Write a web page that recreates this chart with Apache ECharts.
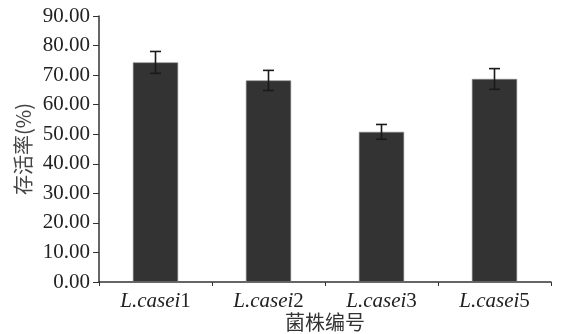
<!DOCTYPE html>
<html><head><meta charset="utf-8">
<script src="https://cdn.jsdelivr.net/npm/echarts@6/dist/echarts.min.js"></script>
<style>html,body{margin:0;padding:0;background:#fff}#c{width:561px;height:334px}</style>
</head><body><div id="c"></div>
<script>
const categories = ['L.casei1', 'L.casei2', 'L.casei3', 'L.casei5'];
const means = [74.3, 68.2, 50.8, 68.7];
const errors = [3.7, 3.4, 2.5, 3.5];
const yTicks = { min: 0, max: 90, interval: 10 };

const chart = echarts.init(document.getElementById('c'));
const serif = '"Liberation Serif","Times New Roman",serif';
chart.setOption({
  animation: false,
  backgroundColor: '#fff',
  grid: { left: 99, right: 10, top: 16, bottom: 52, containLabel: false, outerBoundsMode: 'none' },
  xAxis: {
    type: 'category',
    data: categories,
    name: '菌株编号',
    nameLocation: 'middle',
    nameGap: 30,
    nameMoveOverlap: false,
    nameTextStyle: { fontFamily: '"Noto Sans CJK SC"', fontSize: 20, color: '#333' },
    axisLine: { lineStyle: { color: '#333', width: 1.5 } },
    axisTick: { show: true, length: 4, inside: false, lineStyle: { color: '#333' } },
    axisLabel: {
      margin: 9,
      formatter: v => {
        const m = v.match(/^(.*?)(\d+)$/);
        return '{i|' + m[1] + '}{n|' + m[2] + '}';
      },
      rich: {
        i: { fontFamily: serif, fontStyle: 'italic', fontSize: 21, color: '#222' },
        n: { fontFamily: serif, fontSize: 21, color: '#222' }
      }
    }
  },
  yAxis: {
    type: 'value',
    min: yTicks.min, max: yTicks.max, interval: yTicks.interval,
    name: '存活率(%)',
    nameLocation: 'middle',
    nameGap: 66,
    nameMoveOverlap: false,
    nameTextStyle: { fontFamily: '"Noto Sans CJK SC"', fontSize: 20, color: '#444' },
    axisLine: { show: true, lineStyle: { color: '#333', width: 1.5 } },
    axisTick: { show: true, length: 6, lineStyle: { color: '#333' } },
    splitLine: { show: false },
    axisLabel: {
      margin: 9,
      fontFamily: serif, fontSize: 21, color: '#222',
      formatter: v => v.toFixed(2)
    }
  },
  series: [
    {
      type: 'bar',
      data: means,
      barWidth: '40%',
      itemStyle: { color: '#333333', borderColor: '#888', borderWidth: 0.6 }
    },
    {
      type: 'custom',
      data: means.map((m, i) => [i, m, errors[i]]),
      z: 10,
      renderItem: (params, api) => {
        const i = api.value(0), m = api.value(1), e = api.value(2);
        const hi = api.coord([i, m + e]);
        const lo = api.coord([i, m - e]);
        const hw = 5.5;
        const st = { stroke: '#1a1a1a', lineWidth: 1.6 };
        return {
          type: 'group',
          children: [
            { type: 'line', shape: { x1: hi[0], y1: hi[1], x2: lo[0], y2: lo[1] }, style: st },
            { type: 'line', shape: { x1: hi[0] - hw, y1: hi[1], x2: hi[0] + hw, y2: hi[1] }, style: st },
            { type: 'line', shape: { x1: lo[0] - hw, y1: lo[1], x2: lo[0] + hw, y2: lo[1] }, style: st }
          ]
        };
      }
    }
  ]
});
</script></body></html>
